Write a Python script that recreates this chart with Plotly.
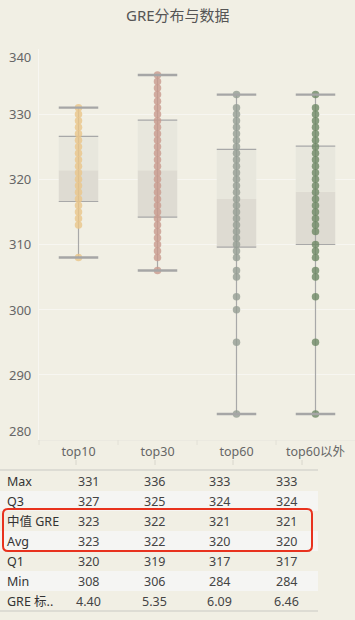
import plotly.graph_objects as go

# ---------------- data ----------------
categories = ["top10", "top30", "top60", "top60以外"]
box_min = [308, 306, 284, 284]
box_q1 = [316.6, 314.2, 309.6, 310.0]
box_median = [321.4, 321.4, 317.0, 318.1]
box_q3 = [326.6, 329.1, 324.6, 325.1]
box_max = [331, 336, 333, 333]

points_top10 = [308] + list(range(313, 332))
points_top30 = [306] + list(range(308, 337))
points_top60 = [284, 295, 300, 302, 305, 306] + list(range(308, 332)) + [333]
points_top60_out = [284, 295, 302, 305, 306, 308, 309, 310] + list(range(312, 332)) + [333]
points = [points_top10, points_top30, points_top60, points_top60_out]
dot_colors = ["#eac689", "#c99a8d", "#959e93", "#6e8865"]

y_ticks = [280, 290, 300, 310, 320, 330, 340]

table_labels = ["Max", "Q3", "中值 GRE", "Avg", "Q1", "Min", "GRE 标.."]
table_values = [
    ["331", "336", "333", "333"],
    ["327", "325", "324", "324"],
    ["323", "322", "321", "321"],
    ["323", "322", "320", "320"],
    ["320", "319", "317", "317"],
    ["308", "306", "284", "284"],
    ["4.40", "5.35", "6.09", "6.46"],
]

# ---------------- layout helpers ----------------
W, H = 355, 620
BG = "#f1efe4"
FONT = "Noto Sans, Noto Sans CJK SC, sans-serif"


def px(x):
    return x / W


def py(y):
    return 1 - y / H


x_idx = list(range(len(categories)))
half = 0.25

fig = go.Figure()

# lower (Q1 -> median) darker part
fig.add_trace(go.Bar(
    x=x_idx, y=[m - q for m, q in zip(box_median, box_q1)], base=box_q1,
    width=0.5, marker=dict(color="#dedbd2", line=dict(width=0)),
    hoverinfo="skip", showlegend=False))
# upper (median -> Q3) lighter part
fig.add_trace(go.Bar(
    x=x_idx, y=[q - m for q, m in zip(box_q3, box_median)], base=box_median,
    width=0.5, marker=dict(color="#e8e7dd", line=dict(width=0)),
    hoverinfo="skip", showlegend=False))

# whisker vertical lines
wx, wy = [], []
for i in x_idx:
    wx += [i, i, None]
    wy += [box_min[i], box_max[i], None]
fig.add_trace(go.Scatter(x=wx, y=wy, mode="lines",
                         line=dict(color="#a8a8a8", width=1.2),
                         hoverinfo="skip", showlegend=False))

# box edges (Q1 and Q3)
ex, ey = [], []
for i in x_idx:
    for v in (box_q1[i], box_q3[i]):
        ex += [i - half, i + half, None]
        ey += [v, v, None]
fig.add_trace(go.Scatter(x=ex, y=ey, mode="lines",
                         line=dict(color="#a8a8a8", width=1.2),
                         hoverinfo="skip", showlegend=False))

# dots
for i, pts in enumerate(points):
    fig.add_trace(go.Scatter(
        x=[i] * len(pts), y=pts, mode="markers",
        marker=dict(color=dot_colors[i], size=7.5, opacity=0.8, line=dict(width=0)),
        showlegend=False))

# whisker caps
cx, cy = [], []
for i in x_idx:
    for v in (box_min[i], box_max[i]):
        cx += [i - half, i + half, None]
        cy += [v, v, None]
fig.add_trace(go.Scatter(x=cx, y=cy, mode="lines",
                         line=dict(color="#a6a6a6", width=2.4),
                         hoverinfo="skip", showlegend=False))

annotations = []
shapes = []

# title
annotations.append(dict(text="GRE分布与数据", x=0.5, y=py(15), xref="paper", yref="paper",
                        showarrow=False, xanchor="center", yanchor="middle",
                        font=dict(size=15, color="#555555", family=FONT)))

# y tick labels
for v in y_ticks:
    shift = 0
    if v == y_ticks[-1]:
        shift = -8
    elif v == y_ticks[0]:
        shift = 9
    annotations.append(dict(text=str(v), x=px(33), y=v, xref="paper", yref="y",
                            showarrow=False, xanchor="right", yanchor="middle", yshift=shift,
                            font=dict(size=13, color="#666666", family=FONT)))

# x axis divider ticks
for xp in [39, 118, 197, 276]:
    shapes.append(dict(type="line", xref="paper", yref="paper",
                       x0=px(xp), x1=px(xp), y0=py(440), y1=py(445),
                       line=dict(color="#e2e0d6", width=1)))

# ---------------- table ----------------
row_h = 20
row_top0 = 471
tbl_right = 318
col_x = [88, 154, 220, 286]

# header ticks
for xp in [76, 155, 233, 302]:
    shapes.append(dict(type="line", xref="paper", yref="paper",
                       x0=px(xp), x1=px(xp), y0=py(460), y1=py(465),
                       line=dict(color="#d8d6cc", width=1)))

for r, lab in enumerate(table_labels):
    top = row_top0 + r * row_h
    if r % 2 == 1:
        shapes.append(dict(type="rect", xref="paper", yref="paper",
                           x0=0, x1=px(tbl_right), y0=py(top + row_h), y1=py(top),
                           fillcolor="#f5f5f3", line=dict(width=0), layer="below"))
    yc = top + row_h / 2
    annotations.append(dict(text=lab, x=px(5), y=py(yc), xref="paper", yref="paper",
                            showarrow=False, xanchor="left", yanchor="middle",
                            font=dict(size=12.5, color="#333333", family=FONT)))
    for c, val in enumerate(table_values[r]):
        annotations.append(dict(text=val, x=px(col_x[c]), y=py(yc), xref="paper", yref="paper",
                                showarrow=False, xanchor="center", yanchor="middle",
                                font=dict(size=12.5, color="#444444", family=FONT)))

# table top / bottom lines
for yl in [row_top0 - 1, row_top0 + len(table_labels) * row_h]:
    shapes.append(dict(type="line", xref="paper", yref="paper",
                       x0=0, x1=px(tbl_right), y0=py(yl), y1=py(yl),
                       line=dict(color="#c9c9c4", width=1)))

# red rounded highlight
x0, x1, y0, y1, rr = 3, 312, 509, 551, 5
path = (f"M {px(x0 + rr)},{py(y0)} L {px(x1 - rr)},{py(y0)} "
        f"Q {px(x1)},{py(y0)} {px(x1)},{py(y0 + rr)} "
        f"L {px(x1)},{py(y1 - rr)} Q {px(x1)},{py(y1)} {px(x1 - rr)},{py(y1)} "
        f"L {px(x0 + rr)},{py(y1)} Q {px(x0)},{py(y1)} {px(x0)},{py(y1 - rr)} "
        f"L {px(x0)},{py(y0 + rr)} Q {px(x0)},{py(y0)} {px(x0 + rr)},{py(y0)} Z")
shapes.append(dict(type="path", xref="paper", yref="paper", path=path,
                   line=dict(color="#e8321e", width=2)))

fig.update_layout(
    width=W, height=H,
    margin=dict(l=0, r=0, t=0, b=0),
    paper_bgcolor=BG, plot_bgcolor=BG,
    barmode="overlay",
    font=dict(family=FONT, color="#666666"),
    xaxis=dict(domain=[px(39), 1], range=[-0.5, 3.5], tickmode="array",
               tickvals=x_idx, ticktext=categories, showgrid=False, zeroline=False,
               showline=True, linecolor="#ebe9e0", ticks="",
               tickfont=dict(size=12.5, color="#666666", family=FONT)),
    yaxis=dict(domain=[py(440), py(49)], range=[280, 340], tickvals=y_ticks,
               showticklabels=False, showgrid=True, gridcolor="#f7f6f1", gridwidth=1,
               zeroline=False, showline=True, linecolor="#f7f6f1", ticks=""),
    annotations=annotations,
    shapes=shapes,
    hovermode=False,
)

fig.write_html(
    "out.html",
    config={"displayModeBar": False},
    post_script="document.body.style.margin='0';document.body.style.padding='0';"
                "document.body.style.overflow='hidden';"
                "document.documentElement.style.overflow='hidden';"
                f"document.body.style.background='{BG}';",
)
